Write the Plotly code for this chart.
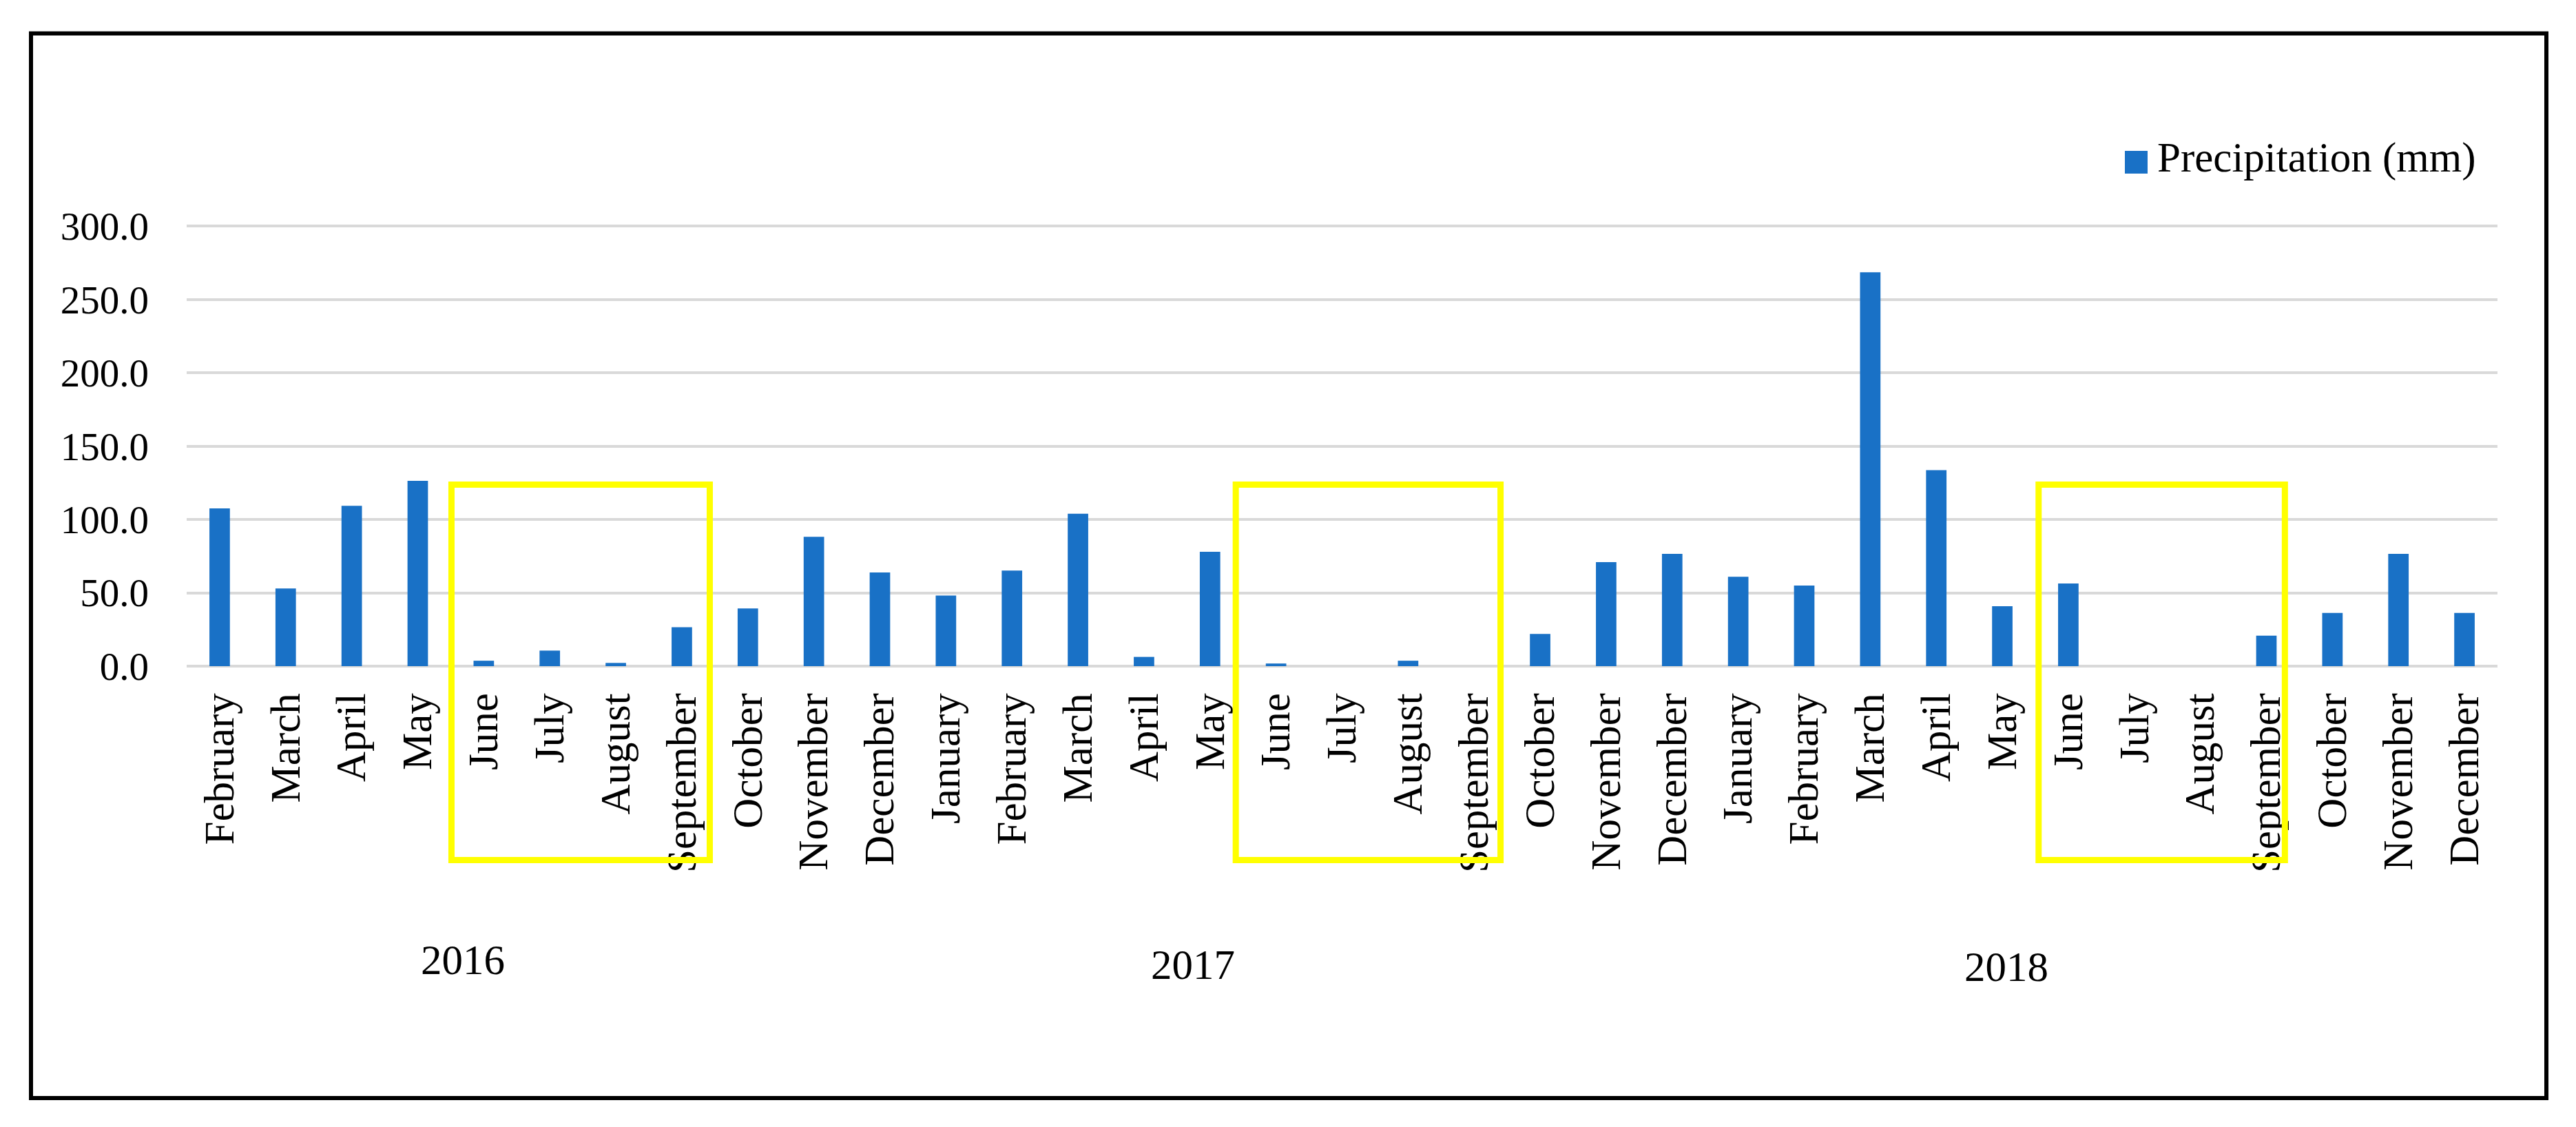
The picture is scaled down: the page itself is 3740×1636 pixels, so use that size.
import plotly.graph_objects as go

# ---------------- data ----------------
months_2016 = ["February", "March", "April", "May", "June", "July", "August",
               "September", "October", "November", "December"]
months_2017 = ["January", "February", "March", "April", "May", "June", "July",
               "August", "September", "October", "November", "December"]
months_2018 = ["January", "February", "March", "April", "May", "June", "July",
               "August", "September", "October", "November", "December"]

precip_2016 = [107.5, 53.0, 109.3, 126.3, 3.7, 10.6, 2.2, 26.5, 39.3, 88.2, 63.9]
precip_2017 = [48.1, 65.2, 103.9, 6.3, 78.0, 1.8, 0.0, 3.7, 0.0, 22.0, 70.9, 76.6]
precip_2018 = [60.9, 55.0, 268.5, 133.6, 40.8, 56.4, 0.0, 0.0, 20.8, 36.3, 76.6, 36.3]

years = ["2016", "2017", "2018"]
series_name = "Precipitation (mm)"
y_ticks = [0, 50, 100, 150, 200, 250, 300]

# ---------------- build ----------------
month_labels = months_2016 + months_2017 + months_2018
keys = ([f"{m} {years[0]}" for m in months_2016] +
        [f"{m} {years[1]}" for m in months_2017] +
        [f"{m} {years[2]}" for m in months_2018])
values = precip_2016 + precip_2017 + precip_2018

W, H = 3740, 1636
YMAX = 301.5
L, R, B = 263, 122, 677
PH = round(639 * YMAX / 300)
T = H - B - PH
PW = W - L - R

def px(x):
    return (x - L) / PW

def py(y):
    return (H - B - y) / PH

FONT = "Liberation Serif"
BLUE = "#1971C6"
TXT = 61

fig = go.Figure()
fig.add_trace(go.Bar(
    x=keys, y=values, name=series_name,
    marker=dict(color=BLUE, line=dict(width=0)),
    showlegend=False,
))

fig.update_layout(
    width=W, height=H,
    margin=dict(l=L, r=R, t=T, b=B, pad=0),
    paper_bgcolor="white", plot_bgcolor="white",
    bargap=0.69,
    font=dict(family=FONT, size=TXT, color="black"),
    xaxis=dict(
        type="category", tickvals=keys, ticktext=month_labels,
        tickangle=-90, showgrid=False, zeroline=False, showline=False,
        ticks="", ticklabelstandoff=26,
        tickfont=dict(family=FONT, size=TXT, color="black"),
    ),
    yaxis=dict(
        range=[0, YMAX], tickvals=y_ticks, tickformat=".1f",
        showgrid=True, gridcolor="#D9D9D9", gridwidth=4,
        zeroline=True, zerolinecolor="#D9D9D9", zerolinewidth=4,
        showline=False, ticks="", ticklabelstandoff=54,
        tickfont=dict(family=FONT, size=57, color="black"),
    ),
)

shapes = []
# outer frame
shapes.append(dict(type="rect", xref="paper", yref="paper",
                   x0=px(37), x1=px(3689), y0=py(1586), y1=py(40.5),
                   line=dict(color="black", width=6), fillcolor="rgba(0,0,0,0)"))
# yellow highlight boxes (dry season, June-September)
for (a, b) in [(3.511, 7.423), (15.39, 19.40), (27.55, 31.28)]:
    shapes.append(dict(type="rect", xref="x", yref="paper",
                       x0=a, x1=b, y0=py(1240.5), y1=py(695.5),
                       line=dict(color="#FFFF00", width=9),
                       fillcolor="rgba(0,0,0,0)", layer="above"))
# legend swatch
shapes.append(dict(type="rect", xref="paper", yref="paper",
                   x0=px(3077), x1=px(3110), y0=py(244), y1=py(211),
                   line=dict(width=0), fillcolor=BLUE))
fig.update_layout(shapes=shapes)

annotations = [dict(text=series_name, xref="paper", yref="paper",
                    x=px(3122), y=py(221), xanchor="left", yanchor="middle",
                    showarrow=False, font=dict(family=FONT, size=TXT, color="black"))]
for yr, xc, yc in zip(years, [3.68, 14.74, 27.06], [1385, 1392, 1395]):
    annotations.append(dict(text=yr, xref="x", yref="paper", x=xc, y=py(yc),
                            xanchor="center", yanchor="middle", showarrow=False,
                            font=dict(family=FONT, size=TXT, color="black")))
fig.update_layout(annotations=annotations)

fig.write_html("out.html")
